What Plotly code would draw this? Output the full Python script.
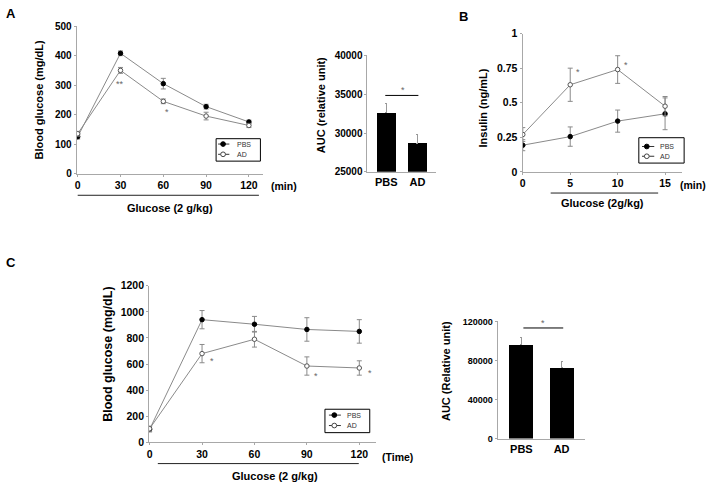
import plotly.graph_objects as go

W, H = 716, 493

# ---------------- data ----------------
a_time = [0, 30, 60, 90, 120]
a_pbs = [125, 408, 305, 227, 175]
a_pbs_err = [8, 8, 18, 8, 6]
a_ad = [135, 350, 245, 195, 163]
a_ad_err = [8, 10, 8, 13, 7]

auc_groups = ["PBS", "AD"]
a_auc = [32600, 28700]
a_auc_err = [1250, 1100]

b_time = [0, 5, 10, 15]
b_pbs = [0.193, 0.255, 0.367, 0.42]
b_pbs_err = [0.04, 0.07, 0.08, 0.115]
b_ad = [0.27, 0.63, 0.74, 0.475]
b_ad_err = [0.05, 0.12, 0.10, 0.07]

c_time = [0, 30, 60, 90, 120]
c_pbs = [100, 940, 905, 865, 850]
c_pbs_err = [20, 70, 60, 90, 90]
c_ad = [105, 680, 790, 585, 570]
c_ad_err = [20, 70, 60, 70, 55]
c_auc = [96000, 72300]
c_auc_err = [7300, 6700]

FONT = "Liberation Sans, Arial, sans-serif"
LINE_GRAY = "#8a8a8a"
AXIS_GRAY = "#a8a8a8"


def px(x):
    return x / W


def py(y):
    return 1 - y / H


fig = go.Figure()


def line_pair(t, pbs, pbs_e, ad, ad_e, xa, ya):
    fig.add_trace(go.Scatter(
        x=t, y=pbs, mode="lines+markers", xaxis=xa, yaxis=ya, showlegend=False,
        line=dict(color=LINE_GRAY, width=1),
        marker=dict(color="black", size=4.5, line=dict(color="black", width=1)),
        error_y=dict(type="data", array=pbs_e, color=LINE_GRAY, thickness=1, width=2.5)))
    fig.add_trace(go.Scatter(
        x=t, y=ad, mode="lines+markers", xaxis=xa, yaxis=ya, showlegend=False,
        line=dict(color=LINE_GRAY, width=1),
        marker=dict(color="white", size=4.5, line=dict(color="#555", width=1)),
        error_y=dict(type="data", array=ad_e, color=LINE_GRAY, thickness=1, width=2.5)))


def bars(vals, errs, xa, ya):
    fig.add_trace(go.Bar(
        x=[0, 1], y=vals, width=0.6, xaxis=xa, yaxis=ya, showlegend=False,
        marker=dict(color="black", line=dict(width=0)),
        error_y=dict(type="data", symmetric=False, array=errs, arrayminus=[0, 0],
                     color="#999", thickness=1, width=1)))


line_pair(a_time, a_pbs, a_pbs_err, a_ad, a_ad_err, "x", "y")
bars(a_auc, a_auc_err, "x2", "y2")
line_pair(b_time, b_pbs, b_pbs_err, b_ad, b_ad_err, "x3", "y3")
line_pair(c_time, c_pbs, c_pbs_err, c_ad, c_ad_err, "x4", "y4")
bars(c_auc, c_auc_err, "x5", "y5")


def ax(domain, rng, tickvals, size, ticktext=None, anchor=None, ticks="outside"):
    d = dict(domain=domain, range=rng, tickvals=tickvals, showline=True,
             linecolor=AXIS_GRAY, linewidth=1, ticks=ticks, ticklen=2,
             tickcolor=AXIS_GRAY, showgrid=False, zeroline=False, tickformat="d",
             tickfont=dict(family=FONT, size=size, color="black", weight="bold"),
             fixedrange=True)
    if ticktext is not None:
        d["ticktext"] = ticktext
        d["tickmode"] = "array"
    if anchor:
        d["anchor"] = anchor
    return d


layout = dict(
    width=W, height=H, autosize=False, margin=dict(l=0, r=0, t=0, b=0),
    paper_bgcolor="white", plot_bgcolor="white", bargap=0, hovermode=False,
    # Panel A line
    xaxis=ax([px(74), px(261)], [-0.7, 129.8], a_time, 10.5, anchor="y"),
    yaxis=ax([py(171.7), py(20.7)], [0, 500], [0, 100, 200, 300, 400, 500], 10, anchor="x"),
    # Panel A AUC
    xaxis2=ax([px(366), px(435)], [-0.6, 1.6], [0, 1], 11, auc_groups, anchor="y2", ticks=""),
    yaxis2=ax([py(170), py(50.7)], [25000, 40000], [25000, 30000, 35000, 40000], 10, anchor="x2"),
    # Panel B
    xaxis3=ax([px(521.7), px(682)], [-0.03, 16.8], b_time, 10.5, anchor="y3"),
    yaxis3=ax([py(170), py(28.3)], [0, 1], [0, 0.25, 0.5, 0.75, 1], 10.5,
              ["0", "0.25", "0.5", "0.75", "1"], anchor="x3"),
    # Panel C line
    xaxis4=ax([px(146.7), px(375)], [-0.3, 129.8], c_time, 10.5, anchor="y4"),
    yaxis4=ax([py(447.3), py(286.7)], [0, 1200], [0, 200, 400, 600, 800, 1000, 1200], 10.5, anchor="x4"),
    # Panel C AUC
    xaxis5=ax([px(496.7), px(584)], [-0.59, 1.57], [0, 1], 11, auc_groups, anchor="y5", ticks=""),
    yaxis5=ax([py(443.3), py(323.3)], [0, 120000], [0, 40000, 80000, 120000], 9, anchor="x5"),
)
fig.update_layout(**layout)

annotations = []
shapes = []


def text(x, y, s, size, bold=True, angle=0, color="black", xanchor="center"):
    annotations.append(dict(
        x=px(x), y=py(y), xref="paper", yref="paper", text=s, showarrow=False,
        textangle=angle, xanchor=xanchor, yanchor="middle",
        font=dict(family=FONT, size=size, color=color, weight="bold" if bold else "normal")))


def star(x, y, xr, yr, s="*", size=9):
    annotations.append(dict(
        x=x, y=y, xref=xr, yref=yr, text=s, showarrow=False,
        font=dict(family=FONT, size=size, color="#666")))


# panel letters
text(8, 8, "A", 13)
text(462, 11, "B", 13)
text(8, 263, "C", 13)

# axis titles
text(36, 96, "Blood glucose (mg/dL)", 11, angle=-90)
text(319, 102, "AUC (relative unit)", 11, angle=-90)
text(482, 104, "Insulin (ng/mL)", 11, angle=-90)
text(106, 357, "Blood glucose (mg/dL)", 12.5, angle=-90)
text(445, 374, "AUC (Relative unit)", 11, angle=-90)

# unit labels and glucose labels
text(282, 185, "(min)", 10.5)
text(168, 207, "Glucose (2 g/kg)", 11)
text(693, 183, "(min)", 10.5)
text(602, 202, "Glucose (2g/kg)", 11)
text(396, 462, "(Time)", 10.5)
text(273, 482, "Glucose (2 g/kg)", 11)

# glucose bars under axes
shapes.append(dict(type="line", xref="x", yref="paper", x0=0, x1=127, y0=py(194), y1=py(194),
                   line=dict(color="#222", width=1)))
shapes.append(dict(type="line", xref="x3", yref="paper", x0=2.94, x1=14.27, y0=py(191.7), y1=py(191.7),
                   line=dict(color="#222", width=1)))
shapes.append(dict(type="line", xref="x4", yref="paper", x0=4.7, x1=119.7, y0=py(469), y1=py(469),
                   line=dict(color="#222", width=1)))

# significance stars
star(30, 303, "x", "y", "**")
star(62.3, 210, "x", "y")
star(5.87, 0.72, "x3", "y3")
star(10.9, 0.77, "x3", "y3")
star(35.6, 627, "x4", "y4")
star(95.4, 510, "x4", "y4")
star(126.2, 533, "x4", "y4")

# AUC significance lines
shapes.append(dict(type="line", xref="x2", yref="y2", x0=-0.03, x1=1.03, y0=34850, y1=34850,
                   line=dict(color="black", width=1)))
star(0.55, 35550, "x2", "y2")
shapes.append(dict(type="line", xref="x5", yref="y5", x0=0.05, x1=1.04, y0=113300, y1=113300,
                   line=dict(color="black", width=1)))
star(0.54, 118000, "x5", "y5")


def legend(x0, y0, x1, y1, r1, r2, sx0, sx1, mx, tx):
    shapes.append(dict(type="rect", xref="paper", yref="paper", x0=px(x0), x1=px(x1),
                       y0=py(y1), y1=py(y0), line=dict(color="black", width=1),
                       fillcolor="white", layer="above"))
    for ry, filled, lab in [(r1, True, "PBS"), (r2, False, "AD")]:
        shapes.append(dict(type="line", xref="paper", yref="paper", x0=px(sx0), x1=px(sx1),
                           y0=py(ry), y1=py(ry), line=dict(color="#333", width=1), layer="above"))
        rr = 2.4
        shapes.append(dict(type="circle", xref="paper", yref="paper",
                           x0=px(mx - rr), x1=px(mx + rr), y0=py(ry + rr), y1=py(ry - rr),
                           fillcolor="black" if filled else "white",
                           line=dict(color="black" if filled else "#444", width=1), layer="above"))
        text(tx, ry, lab, 7, bold=False, color="#333", xanchor="left")


legend(214, 136, 258.5, 159, 141.5, 152, 216, 227.3, 221, 233)
legend(638.5, 135, 684, 161, 144, 154, 641.7, 654, 646.5, 657.5)
legend(323.3, 413.3, 368.3, 437.3, 419.3, 430, 327.3, 339.3, 332.7, 343.5)

fig.update_layout(annotations=annotations, shapes=shapes)
fig.write_html(
    "out.html",
    config={"displayModeBar": False, "staticPlot": True},
    post_script="document.body.style.margin='0';document.body.style.padding='0';"
                "document.body.style.overflow='hidden';",
)
